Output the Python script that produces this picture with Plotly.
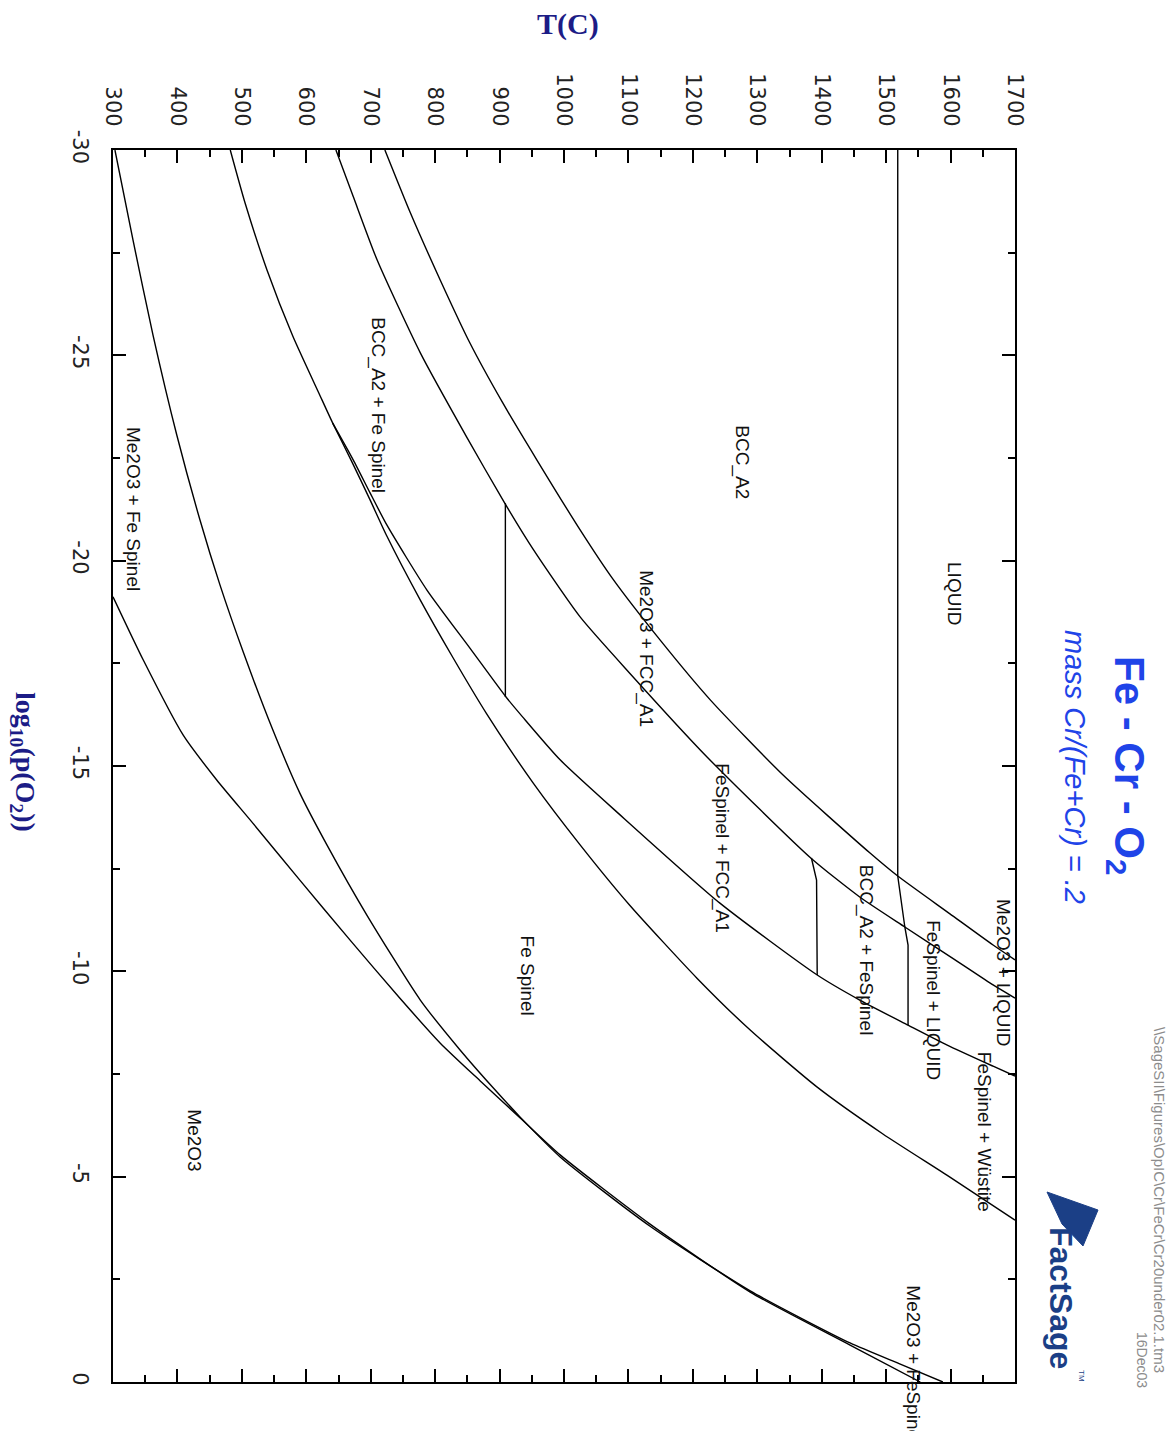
import plotly.graph_objects as go

# ---- phase boundaries: temperature (C) vs log10 p(O2) ----
curve_a_t = [722, 761, 808, 854, 905, 958, 1025, 1076, 1149, 1227, 1340, 1475, 1518, 1599, 1666, 1700]
curve_a_p = [-30, -28.49, -26.83, -25.30, -23.84, -22.45, -20.75, -19.55, -18.07, -16.61, -14.78,
             -12.88, -12.32, -11.40, -10.64, -10.28]

curve_b_t = [646, 673, 710, 777, 849, 908, 952, 1025, 1102, 1222, 1383, 1459, 1529, 1607, 1666, 1700]
curve_b_p = [-30, -28.86, -27.32, -25.06, -23.01, -21.40, -20.28, -18.63, -17.26, -15.22, -12.76,
             -11.81, -11.08, -10.28, -9.67, -9.35]

curve_c_t = [482, 505, 539, 579, 621, 641, 671, 699, 725, 777, 828, 880, 952, 1025, 1102, 1206,
             1289, 1393, 1495, 1599, 1700]
curve_c_p = [-30, -28.71, -27.08, -25.47, -24.03, -23.35, -22.40, -21.48, -20.60, -19.04, -17.63,
             -16.27, -14.59, -13.08, -11.61, -9.84, -8.57, -7.18, -6.04, -4.99, -3.94]

curve_c2_t = [641, 673, 699, 725, 787, 854, 910, 936, 994, 1087, 1242, 1393, 1459, 1534, 1594, 1666, 1700]
curve_c2_p = [-23.35, -22.45, -21.65, -20.87, -19.29, -17.87, -16.68, -16.19, -15.15, -13.81, -11.66,
              -9.91, -9.30, -8.69, -8.21, -7.69, -7.45]

curve_d_t = [303, 331, 362, 399, 435, 466, 502, 548, 590, 632, 694, 777, 839, 896, 932, 994, 1133,
             1289, 1444, 1521, 1588]
curve_d_p = [-30, -27.81, -25.50, -23.06, -20.99, -19.41, -17.78, -15.88, -14.34, -13.08, -11.37,
             -9.30, -8.08, -7.06, -6.45, -5.48, -3.80, -2.22, -0.95, -0.44, 0]

curve_d2_t = [300, 347, 409, 461, 517, 590, 668, 745, 808, 870, 932, 994, 1133, 1289, 1444, 1553]
curve_d2_p = [-19.12, -17.58, -15.75, -14.66, -13.61, -12.22, -10.76, -9.35, -8.25, -7.33, -6.43,
              -5.53, -3.85, -2.19, -0.90, 0]

liquidus_t = [1518, 1518, 1529, 1534, 1534]
liquidus_p = [-30, -12.32, -11.08, -10.64, -8.69]

tie_low_t = [909, 909]
tie_low_p = [-21.40, -16.68]

tie_high_t = [1384, 1392, 1393]
tie_high_p = [-12.76, -12.22, -9.91]

# smooth boundaries are drawn as splines, the straight segments as plain lines
smooth_boundaries = [
    (curve_a_t, curve_a_p), (curve_b_t, curve_b_p), (curve_c_t, curve_c_p),
    (curve_c2_t, curve_c2_p), (curve_d_t, curve_d_p), (curve_d2_t, curve_d2_p),
]
straight_boundaries = [
    (liquidus_t, liquidus_p), (tie_low_t, tie_low_p), (tie_high_t, tie_high_p),
]

# ---- phase field labels ----
phase_names = ["LIQUID", "BCC_A2", "BCC_A2 + Fe Spinel", "Me2O3 + Fe Spinel", "Me2O3 + FCC_A1",
               "FeSpinel + FCC_A1", "Fe Spinel", "Me2O3", "BCC_A2 + FeSpinel", "FeSpinel + LIQUID",
               "Me2O3 + LIQUID", "FeSpinel + Wüstite", "Me2O3 + FeSpinel"]
phase_t = [1607, 1276, 711, 331, 1127, 1245, 943, 427, 1469, 1574, 1683, 1652, 1543]
phase_p = [-19.21, -22.40, -23.79, -21.26, -17.85, -13.00, -9.89, -5.89, -10.52, -9.30, -9.98, -6.09, -0.41]

t_ticks = list(range(300, 1701, 100))
p_ticks = [-30, -25, -20, -15, -10, -5, 0]
p_tick_text = ["-30", "-25", "-20", "-15", "-10", "-5", "0"]

# page geometry (pixels)
W, H = 1173, 1431
L, T, R, B = 113, 150, 1015, 1382


def px(x):
    return (x - L) / (R - L)


def py(y):
    return (B - y) / (B - T)


fig = go.Figure()
for t_vals, p_vals in smooth_boundaries:
    fig.add_trace(go.Scatter(x=t_vals, y=p_vals, mode="lines",
                             line=dict(color="black", width=1.4, shape="spline", smoothing=0.6),
                             hoverinfo="skip", showlegend=False))
for t_vals, p_vals in straight_boundaries:
    fig.add_trace(go.Scatter(x=t_vals, y=p_vals, mode="lines",
                             line=dict(color="black", width=1.4),
                             hoverinfo="skip", showlegend=False))

label_font = dict(family="Liberation Sans, Arial, sans-serif", size=19, color="#111111")
for name, t_val, p_val in zip(phase_names, phase_t, phase_p):
    fig.add_annotation(x=t_val, y=p_val, xref="x", yref="y", text=name, textangle=90,
                       showarrow=False, font=label_font, xanchor="center", yanchor="middle")

navy = "#1c1c86"
title_blue = "#1f44e8"

fig.add_annotation(x=px(568), y=py(24), xref="paper", yref="paper", text="<b>T(C)</b>",
                   showarrow=False, font=dict(family="Liberation Serif, serif", size=30, color=navy),
                   xanchor="center", yanchor="middle")
fig.add_annotation(x=px(24), y=py(762), xref="paper", yref="paper",
                   text="<b>log<sub>10</sub>(p(O<sub>2</sub>))</b>", textangle=90,
                   showarrow=False, font=dict(family="Liberation Serif, serif", size=28, color=navy),
                   xanchor="center", yanchor="middle")
fig.add_annotation(x=px(1127), y=py(765), xref="paper", yref="paper",
                   text="<b>Fe - Cr - O<sub>2</sub></b>", textangle=90, showarrow=False,
                   font=dict(family="Liberation Sans, Arial, sans-serif", size=42, color=title_blue),
                   xanchor="center", yanchor="middle")
fig.add_annotation(x=px(1075), y=py(767), xref="paper", yref="paper",
                   text="<i>mass Cr/(Fe+Cr) = .2</i>", textangle=90, showarrow=False,
                   font=dict(family="Liberation Sans, Arial, sans-serif", size=29, color=title_blue),
                   xanchor="center", yanchor="middle")
fig.add_annotation(x=px(1160), y=py(1200), xref="paper", yref="paper",
                   text="\\\\SageSII\\Figures\\OpIC\\Cr\\FeCr\\Cr20under02.1.tm3", textangle=90,
                   showarrow=False,
                   font=dict(family="Liberation Sans, Arial, sans-serif", size=15, color="#8c8c8c"),
                   xanchor="center", yanchor="middle")
fig.add_annotation(x=px(1142), y=py(1360), xref="paper", yref="paper", text="16Dec03",
                   textangle=90, showarrow=False,
                   font=dict(family="Liberation Sans, Arial, sans-serif", size=14, color="#8c8c8c"),
                   xanchor="center", yanchor="middle")

# FactSage mark
logo_pts = [(1047, 1192), (1098, 1210), (1083, 1246), (1062, 1224)]
path = "M " + " L ".join(f"{px(x):.5f},{py(y):.5f}" for x, y in logo_pts) + " Z"
fig.add_shape(type="path", path=path, xref="paper", yref="paper",
              fillcolor="#1b3f86", line=dict(color="#1b3f86", width=1))
fig.add_annotation(x=px(1061), y=py(1298), xref="paper", yref="paper", text="<b>FactSage</b>",
                   textangle=90, showarrow=False,
                   font=dict(family="Liberation Sans, Arial, sans-serif", size=32, color="#1b3f86"),
                   xanchor="center", yanchor="middle")
fig.add_annotation(x=px(1082), y=py(1376), xref="paper", yref="paper", text="TM",
                   textangle=90, showarrow=False,
                   font=dict(family="Liberation Sans, Arial, sans-serif", size=8, color="#1b3f86"),
                   xanchor="center", yanchor="middle")

tick_font = dict(family="DejaVu Sans, sans-serif", size=21, color="#222222")
axis_common = dict(showline=True, linecolor="black", linewidth=2, mirror="ticks",
                   ticks="inside", ticklen=13, tickwidth=1.5, tickcolor="black",
                   showgrid=False, zeroline=False, tickangle=90, tickfont=tick_font)

fig.update_xaxes(range=[300, 1700], side="top", tickmode="array", tickvals=t_ticks,
                 ticktext=[str(v) for v in t_ticks], ticklabelstandoff=14,
                 minor=dict(dtick=50, ticks="inside", ticklen=7, tickwidth=1.5,
                            tickcolor="black", showgrid=False),
                 **axis_common)
fig.update_yaxes(range=[0, -30], tickmode="array", tickvals=p_ticks, ticktext=p_tick_text,
                 ticklabelstandoff=13,
                 minor=dict(dtick=2.5, ticks="inside", ticklen=7, tickwidth=1.5,
                            tickcolor="black", showgrid=False),
                 **axis_common)

fig.update_layout(width=W, height=H, autosize=False,
                  margin=dict(l=L, r=W - R, t=T, b=H - B, pad=0),
                  paper_bgcolor="white", plot_bgcolor="white", showlegend=False)

fig.write_html("out.html")
